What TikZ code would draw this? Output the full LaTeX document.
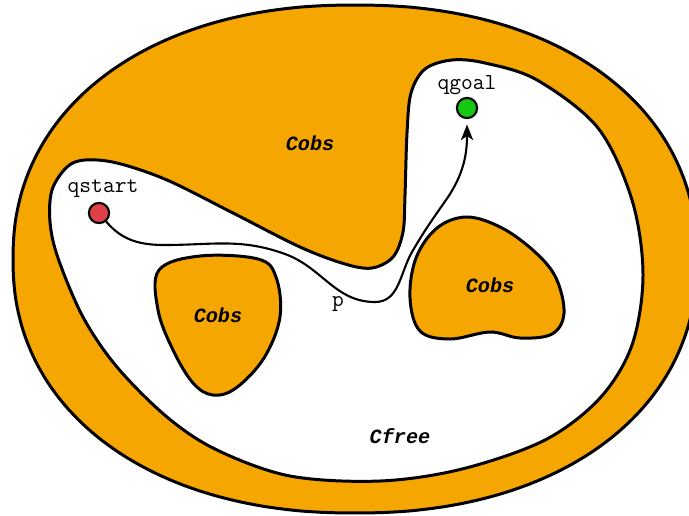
\documentclass[tikz,border=0pt]{standalone}
\usepackage{fontspec}
\newfontfamily\cobsfont{Liberation Mono}
\usepackage{xcolor}
\usepackage{tikz}
\usetikzlibrary{arrows.meta}
\definecolor{obsorange}{RGB}{245,166,0}
\definecolor{startred}{RGB}{222,66,72}
\definecolor{goalgreen}{RGB}{20,200,20}

\begin{document}
\begin{tikzpicture}[x=0.02cm,y=-0.02cm,
  obs/.style={draw, line width=1.7pt, fill=obsorange},
  free/.style={draw, line width=1.7pt, fill=white},
  dot/.style={circle, draw, line width=1.2pt, minimum size=11.5pt, inner sep=0pt},
  qlbl/.style={font=\ttfamily\fontsize{13}{15}\selectfont},
  clbl/.style={font=\cobsfont\bfseries\itshape\fontsize{11.5}{14}\selectfont},
  pathline/.style={line width=1.2pt, -{Stealth[length=9pt,width=7pt,inset=2.5pt]}, shorten >=3pt}]
\useasboundingbox (0,0) rectangle (689,515);

% Outer obstacle (rounded superellipse)
\draw[obs] plot[domain=1.5:358.5, samples=120, smooth, variable=\t]
  ({355+342*sign(cos(\t))*pow(abs(cos(\t)),0.92)},
   {259+254*sign(sin(\t))*pow(abs(sin(\t)),0.92)}) -- cycle;

% Free space
\draw[free] plot[smooth cycle, tension=0.55] coordinates {
  (52,190) (67,167) (85,160) (117,163) (167,180) (233,213) (300,247)
  (345,264) (372,268) (393,257) (403,232) (405,195) (407,133) (411,93)
  (425,69) (452,60) (485,63) (537,80) (598,128) (632,200) (643,275)
  (632,345) (600,398) (545,440) (462,469) (380,481) (290,476)
  (217,450) (167,417) (117,367) (83,317) (58,258) (50,222)};

% Obstacles inside
\draw[obs] plot[smooth cycle, tension=0.6] coordinates {
  (159,270) (200,256) (258,259) (276,277) (280,317) (264,358) (236,388)
  (213,395) (193,383) (173,350) (158,310)};
\draw[obs] plot[smooth cycle, tension=0.6] coordinates {
  (467,217) (502,228) (535,252) (556,278) (564,313) (552,334) (520,338)
  (490,332) (450,339) (420,331) (410,298) (416,258) (437,228)};

% Start and goal
\node[dot, fill=startred] (qstart) at (99,213) {};
\node[dot, fill=goalgreen] (qgoal) at (467,108) {};
\node[qlbl] (startlbl) at (103,189) {qstart};
\node[qlbl] (goallbl) at (467,85) {qgoal};

% Path
\draw[pathline] (qstart) to[out=-50,in=180] (165,245) to[out=0,in=160] (285,254)
  to[out=-20,in=180] (375,302) to[out=0,in=-120] (412,252)
  to[out=60,in=-125] (446,200) to[out=55,in=-90] (qgoal);
\node[qlbl] (plbl) at (338,304) {p};

% Labels
\node[clbl] (cobs1) at (310,143) {Cobs};
\node[clbl] (cobs2) at (218,315) {Cobs};
\node[clbl] (cobs3) at (490,285) {Cobs};
\node[clbl] (cfree) at (400,436) {Cfree};
\end{tikzpicture}
\end{document}
